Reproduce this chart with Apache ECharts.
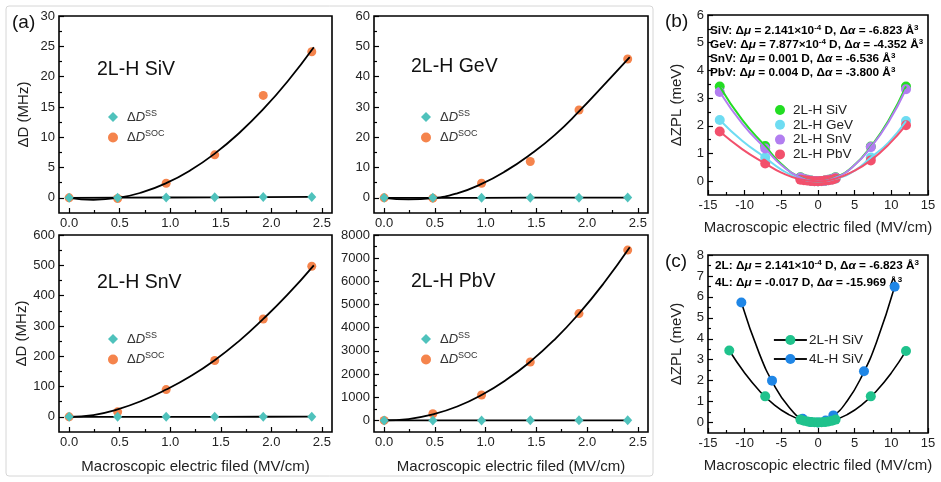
<!DOCTYPE html>
<html>
<head>
<meta charset="utf-8">
<script src="https://cdn.jsdelivr.net/npm/echarts@6/dist/echarts.min.js"></script>
<style>
html, body { margin: 0; padding: 0; background: #fff; }
#chart { width: 941px; height: 482px; }
</style>
</head>
<body>
<div id="chart"></div>
<script>
// ---- panel (a): zero-field splitting change vs. field ----
var fieldA = [0, 0.48, 0.96, 1.44, 1.92, 2.4];
var ssSiV = [0, 0.03, 0.06, 0.09, 0.12, 0.15];
var socSiV = [0, -0.1, 2.4, 7.1, 16.9, 24.1];
var ssGeV = [0, 0, 0.02, 0.04, 0.06, 0.08];
var socGeV = [0, -0.1, 4.8, 12.0, 29.0, 45.8];
var ssSnV = [0, 0, 0.1, 0.2, 0.3, 0.4];
var socSnV = [0, 16.6, 90, 186, 323, 497];
var ssPbV = [0, 0, 1, 2, 3, 4];
var socPbV = [0, 288, 1095, 2520, 4610, 7350];

// fitted curves
var fitXA = [0, 0.24, 0.48, 0.72, 0.96, 1.2, 1.44, 1.68, 1.92, 2.16, 2.42];
var fitSiV = [0, -0.31, -0.02, 0.9, 2.42, 4.55, 7.3, 10.66, 14.62, 19.2, 24.86];
var fitGeV = [0, -0.5, -0.1, 1.5, 4.6, 8.9, 14.3, 20.7, 28.5, 37.0, 46.4];
var fitSnV = [0, 6, 25, 53, 90, 134, 187, 250, 323, 403, 500];
var fitPbV = [0, 60, 260, 600, 1095, 1740, 2535, 3490, 4610, 5895, 7470];

// ---- panel (b): ZPL shift ----
var fieldB = [-13.4, -7.2, -2.4, -1.92, -1.44, -0.96, -0.48, 0, 0.48, 0.96, 1.44, 1.92, 2.4, 7.2, 12];
var zplSiV = [3.42, 1.27, 0.14, 0.09, 0.05, 0.02, 0.01, 0, 0.01, 0.02, 0.05, 0.09, 0.14, 1.25, 3.42];
var zplGeV = [2.21, 0.85, 0.09, 0.06, 0.03, 0.01, 0, 0, 0, 0.01, 0.03, 0.06, 0.09, 0.85, 2.17];
var zplSnV = [3.22, 1.18, 0.13, 0.08, 0.05, 0.02, 0.01, 0, 0.01, 0.02, 0.05, 0.08, 0.13, 1.23, 3.32];
var zplPbV = [1.79, 0.64, 0.05, 0.03, 0.02, 0.01, 0, 0, 0.01, 0.02, 0.03, 0.05, 0.1, 0.75, 2.02];

var fitXB = [-13.4, -10.3, -7.2, -5, -2.5, 0, 2.5, 5, 7.2, 9.6, 12];
var fitZplSiV = [3.42, 2.2, 1.27, 0.62, 0.15, 0, 0.15, 0.59, 1.25, 2.18, 3.42];
var fitZplGeV = [2.21, 1.45, 0.85, 0.42, 0.1, 0, 0.09, 0.38, 0.85, 1.39, 2.17];
var fitZplSnV = [3.22, 2.07, 1.18, 0.58, 0.14, 0, 0.14, 0.58, 1.22, 2.13, 3.32];
var fitZplPbV = [1.79, 1.15, 0.64, 0.31, 0.07, 0, 0.1, 0.38, 0.75, 1.31, 2.02];

// ---- panel (c): 2L vs 4L SiV ----
var field2L = [-12.1, -7.2, -2.4, -1.92, -1.44, -0.96, -0.48, 0, 0.48, 0.96, 1.44, 1.92, 2.4, 7.2, 12];
var zpl2L = [3.44, 1.25, 0.14, 0.09, 0.05, 0.02, 0.01, 0, 0.01, 0.02, 0.05, 0.09, 0.14, 1.25, 3.42];
var fitX2L = [-12.1, -10, -8, -6, -4, -2, 0, 2, 4, 6, 8, 10, 12];
var fit2L = [3.44, 2.37, 1.52, 0.85, 0.38, 0.1, 0, 0.1, 0.38, 0.85, 1.52, 2.37, 3.42];
var field4L = [-10.45, -6.27, -2.09, -1.05, 0, 1.05, 2.09, 6.27, 10.45];
var zpl4L = [5.73, 2.0, 0.18, 0.03, 0, 0.1, 0.34, 2.45, 6.48];
var fitX4L = [-10.45, -8, -6, -4, -2, 0, 2, 4, 6, 8, 10.45];
var fit4L = [5.73, 3.29, 1.8, 0.75, 0.15, 0, 0.3, 1.04, 2.23, 3.86, 6.48];

// tick labels
var ticksXA = [0, 0.5, 1, 1.5, 2, 2.5];
var minorXA = [0.25, 0.75, 1.25, 1.75, 2.25];
var ticksSiV = [0, 5, 10, 15, 20, 25, 30];
var minorSiV = [2.5, 7.5, 12.5, 17.5, 22.5, 27.5];
var ticksGeV = [0, 10, 20, 30, 40, 50, 60];
var minorGeV = [5, 15, 25, 35, 45, 55];
var ticksSnV = [0, 100, 200, 300, 400, 500, 600];
var minorSnV = [50, 150, 250, 350, 450, 550];
var ticksPbV = [0, 1000, 2000, 3000, 4000, 5000, 6000, 7000, 8000];
var minorPbV = [500, 1500, 2500, 3500, 4500, 5500, 6500, 7500];
var ticksXB = [-15, -10, -5, 0, 5, 10, 15];
var minorXB = [-12.5, -7.5, -2.5, 2.5, 7.5, 12.5];
var ticksYB = [0, 1, 2, 3, 4, 5, 6];
var minorYB = [0.5, 1.5, 2.5, 3.5, 4.5, 5.5];
var ticksYC = [0, 1, 2, 3, 4, 5, 6, 7, 8];
var minorYC = [0.5, 1.5, 2.5, 3.5, 4.5, 5.5, 6.5, 7.5];

var FONT = 'Liberation Sans, Arial, sans-serif';
var TEAL = '#4fc2bc';
var ORANGE = '#f5844c';
var FIELD_NAME = 'Macroscopic electric filed (MV/cm)';

function pairs(xs, ys) {
    return xs.map(function (x, i) { return [x, ys[i]]; });
}

function axisPair(dim, grid, min, max, ticks, minors, digits, name, gap) {
    var pos = dim === 'x' ? 'bottom' : 'left';
    var main = {
        type: 'value', gridIndex: grid, min: min, max: max, position: pos,
        axisLine: { show: false, onZero: false },
        axisTick: { inside: true, length: 5, customValues: ticks, lineStyle: { color: '#000', width: 1.2 } },
        axisLabel: {
            customValues: ticks, margin: 4, color: '#222', fontSize: 13, fontFamily: FONT,
            formatter: function (v) { return v.toFixed(digits); }
        },
        splitLine: { show: false },
        name: name || '', nameLocation: 'middle', nameGap: gap || 0,
        nameTextStyle: { color: '#222', fontSize: 15, fontFamily: FONT }
    };
    var minor = {
        type: 'value', gridIndex: grid, min: min, max: max, position: pos,
        axisLine: { show: false, onZero: false },
        axisTick: { inside: true, length: 3, customValues: minors, lineStyle: { color: '#000', width: 1.2 } },
        axisLabel: { show: false },
        splitLine: { show: false }
    };
    return [main, minor];
}

var grids = [
    { left: 59, top: 16, width: 273, height: 197 },
    { left: 374, top: 16, width: 274, height: 197 },
    { left: 59, top: 235, width: 273, height: 197 },
    { left: 374, top: 235, width: 274, height: 197 },
    { left: 708, top: 15, width: 220, height: 180 },
    { left: 708, top: 255, width: 220, height: 178 }
].map(function (g) {
    g.show = true;
    g.borderColor = '#000';
    g.borderWidth = 1.6;
    g.backgroundColor = 'transparent';
    return g;
});

var xAxes = [].concat(
    axisPair('x', 0, -0.1, 2.6, ticksXA, minorXA, 1),
    axisPair('x', 1, -0.1, 2.6, ticksXA, minorXA, 1),
    axisPair('x', 2, -0.1, 2.6, ticksXA, minorXA, 1, FIELD_NAME, 27),
    axisPair('x', 3, -0.1, 2.6, ticksXA, minorXA, 1, FIELD_NAME, 27),
    axisPair('x', 4, -15, 15, ticksXB, minorXB, 0, FIELD_NAME, 25),
    axisPair('x', 5, -15, 15, ticksXB, minorXB, 0, FIELD_NAME, 25)
);
var yAxes = [].concat(
    axisPair('y', 0, -2.5, 30, ticksSiV, minorSiV, 0, 'ΔD (MHz)', 28),
    axisPair('y', 1, -5, 60, ticksGeV, minorGeV, 0),
    axisPair('y', 2, -50, 600, ticksSnV, minorSnV, 0, 'ΔD (MHz)', 28),
    axisPair('y', 3, -500, 8000, ticksPbV, minorPbV, 0),
    axisPair('y', 4, -0.5, 6, ticksYB, minorYB, 0, 'ΔZPL (meV)', 24),
    axisPair('y', 5, -0.5, 8, ticksYC, minorYC, 0, 'ΔZPL (meV)', 24)
);

// panel (a) series: fit curve, SS points on a black line, SOC points
function dSeries(g, ss, soc, fit) {
    var ax = { xAxisIndex: 2 * g, yAxisIndex: 2 * g };
    return [
        Object.assign({ type: 'line', data: pairs(fitXA, fit), smooth: true, showSymbol: false, silent: true,
            lineStyle: { color: '#000', width: 1.8 } }, ax),
        Object.assign({ name: 'SS', type: 'line', data: pairs(fieldA, ss), symbol: 'diamond', symbolSize: [9, 10],
            itemStyle: { color: TEAL }, lineStyle: { color: '#000', width: 1.8 } }, ax),
        Object.assign({ name: 'SOC', type: 'scatter', data: pairs(fieldA, soc), symbolSize: 9,
            itemStyle: { color: ORANGE, opacity: 1 } }, ax)
    ];
}

function dLegend(left, top) {
    return {
        left: left, top: top, orient: 'vertical', padding: 0, itemGap: 6,
        itemWidth: 10, itemHeight: 10, selectedMode: false,
        data: [{ name: 'SS', icon: 'diamond' }, { name: 'SOC', icon: 'circle' }],
        formatter: function (n) { return '{n|Δ}{i|D}{s|' + n + '}'; },
        textStyle: {
            padding: [0, 0, 0, 4],
            rich: {
                n: { fontSize: 13, color: '#333', fontFamily: FONT },
                i: { fontSize: 13, color: '#333', fontStyle: 'italic', fontFamily: FONT },
                s: { fontSize: 9, color: '#333', fontFamily: FONT, padding: [0, 0, 7, 0] }
            }
        }
    };
}

// panel (b)
var colorsB = ['#22dd22', '#6edcf2', '#b27ef0', '#f2506c'];
var namesB = ['2L-H SiV', '2L-H GeV', '2L-H SnV', '2L-H PbV'];
var zplB = [zplSiV, zplGeV, zplSnV, zplPbV];
var fitB = [fitZplSiV, fitZplGeV, fitZplSnV, fitZplPbV];
var seriesB = [];
namesB.forEach(function (n, k) {
    seriesB.push({ type: 'line', xAxisIndex: 8, yAxisIndex: 8, data: pairs(fitXB, fitB[k]), smooth: true,
        showSymbol: false, silent: true, lineStyle: { color: colorsB[k], width: 2 } });
    seriesB.push({ name: n, type: 'scatter', xAxisIndex: 8, yAxisIndex: 8, data: pairs(fieldB, zplB[k]),
        symbolSize: 10, itemStyle: { color: colorsB[k], opacity: 1 } });
});

// panel (c)
var labelsC = { c2L: '2L-H SiV', c4L: '4L-H SiV' };
var seriesC = [
    { type: 'line', xAxisIndex: 10, yAxisIndex: 10, data: pairs(fitX4L, fit4L), smooth: true, showSymbol: false,
        silent: true, lineStyle: { color: '#000', width: 1.6 } },
    { type: 'line', xAxisIndex: 10, yAxisIndex: 10, data: pairs(fitX2L, fit2L), smooth: true, showSymbol: false,
        silent: true, lineStyle: { color: '#000', width: 1.6 } },
    { name: 'c4L', type: 'line', xAxisIndex: 10, yAxisIndex: 10, data: pairs(field4L, zpl4L), symbol: 'circle',
        symbolSize: 10, showAllSymbol: true, itemStyle: { color: '#1f86e6' }, lineStyle: { opacity: 0 } },
    { name: 'c2L', type: 'line', xAxisIndex: 10, yAxisIndex: 10, data: pairs(field2L, zpl2L), symbol: 'circle',
        symbolSize: 10, showAllSymbol: true, itemStyle: { color: '#1fc28c' }, lineStyle: { opacity: 0 } }
];

var boldRich = {
    b: { fontSize: 11.8, fontWeight: 'bold', color: '#111', fontFamily: FONT },
    bi: { fontSize: 11.8, fontWeight: 'bold', fontStyle: 'italic', color: '#111', fontFamily: FONT },
    sup: { fontSize: 8, fontWeight: 'bold', color: '#111', fontFamily: FONT, padding: [0, 0, 6, 0] }
};
function note(x, y, label, mu, muSup, alpha) {
    var t = '{b|' + label + ': Δ}{bi|μ}{b| = ' + mu + '}' + (muSup ? '{sup|' + muSup + '}' : '') +
        '{b| D, Δ}{bi|α}{b| = ' + alpha + ' Å}{sup|3}';
    return { type: 'text', x: x, y: y, style: { text: t, rich: boldRich, verticalAlign: 'middle' } };
}
function plain(x, y, text, size) {
    return { type: 'text', x: x, y: y,
        style: { text: text, fontSize: size, fontFamily: FONT, fill: '#111', verticalAlign: 'middle' } };
}

var chart = echarts.init(document.getElementById('chart'));
var option = {
    animation: false,
    textStyle: { fontFamily: FONT },
    grid: grids,
    xAxis: xAxes,
    yAxis: yAxes,
    legend: [
        dLegend(108, 109), dLegend(421, 109), dLegend(108, 331), dLegend(421, 331),
        {
            left: 775, top: 103, orient: 'vertical', padding: 0, itemGap: 0.8, itemWidth: 10, itemHeight: 10,
            selectedMode: false, icon: 'circle', data: namesB,
            textStyle: { fontSize: 13.5, lineHeight: 12, color: '#222', fontFamily: FONT, padding: [0, 0, 0, 3] }
        },
        {
            left: 773, top: 333, orient: 'vertical', padding: 0, itemGap: 5, itemWidth: 33, itemHeight: 12.5,
            selectedMode: false, data: ['c2L', 'c4L'],
            formatter: function (n) { return labelsC[n]; },
            lineStyle: { color: '#111', width: 1.8, opacity: 1 },
            textStyle: { fontSize: 13.5, color: '#222', fontFamily: FONT, padding: [0, 0, 0, -3] }
        }
    ],
    series: [].concat(
        dSeries(0, ssSiV, socSiV, fitSiV),
        dSeries(1, ssGeV, socGeV, fitGeV),
        dSeries(2, ssSnV, socSnV, fitSnV),
        dSeries(3, ssPbV, socPbV, fitPbV),
        seriesB,
        seriesC
    ),
    graphic: [
        { type: 'rect', shape: { x: 6, y: 6, width: 647, height: 470, r: 3 },
            style: { fill: 'none', stroke: '#d6d6d6', lineWidth: 1 } },
        plain(12, 23, '(a)', 19),
        plain(665, 22, '(b)', 19),
        plain(665, 262, '(c)', 19),
        plain(97, 70, '2L-H SiV', 19.5),
        plain(411, 67, '2L-H GeV', 19.5),
        plain(97, 283, '2L-H SnV', 19.5),
        plain(411, 282, '2L-H PbV', 19.5),
        note(710, 31, 'SiV', '2.141×10', '-4', '-6.823'),
        note(710, 45, 'GeV', '7.877×10', '-4', '-4.352'),
        note(710, 59, 'SnV', '0.001', '', '-6.536'),
        note(710, 73, 'PbV', '0.004', '', '-3.800'),
        note(715, 266, '2L', '2.141×10', '-4', '-6.823'),
        note(715, 283, '4L', '-0.017', '', '-15.969')
    ]
};
chart.setOption(option);
</script>
</body>
</html>
